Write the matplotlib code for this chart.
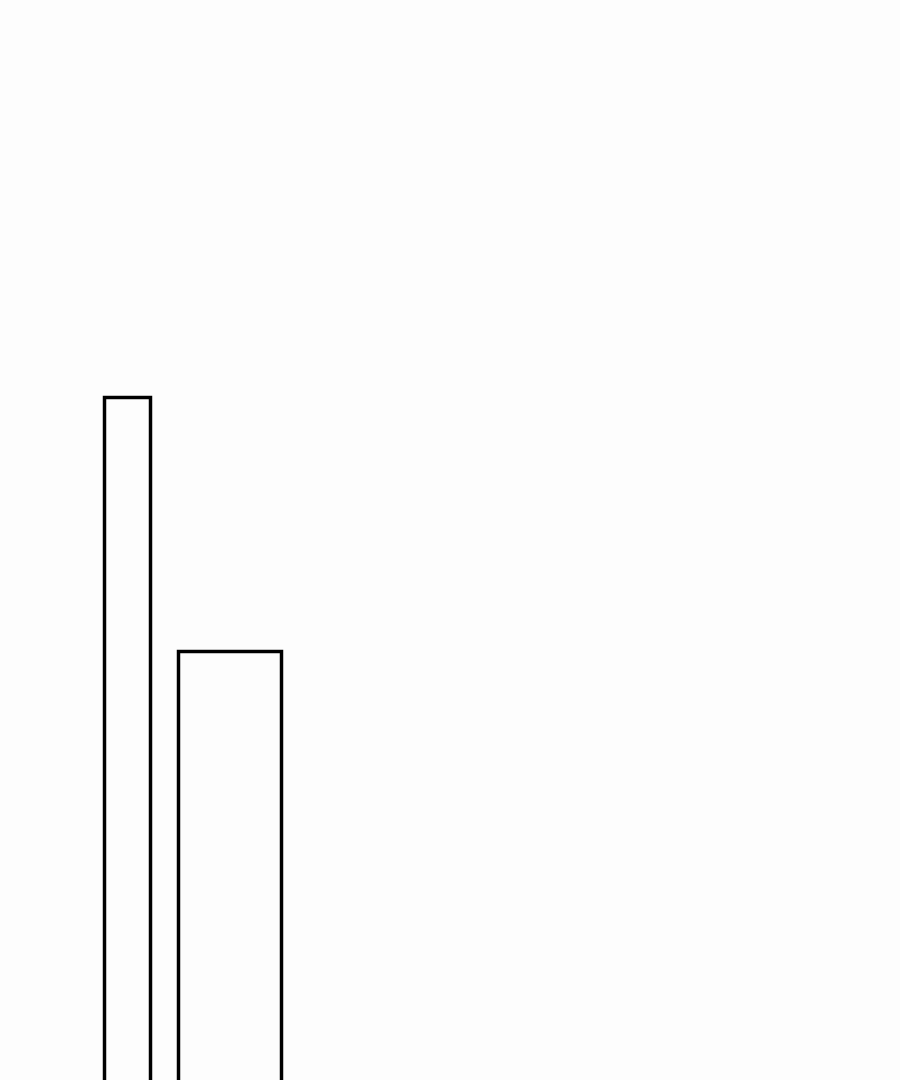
import matplotlib
matplotlib.use("Agg")
import matplotlib.pyplot as plt

# two outlined columns, both running off the bottom edge
categories = ["A", "B"]
values = [69.35, 43.95]
bar_widths = [0.44, 1.0]

fig = plt.figure(figsize=(9, 10.8), dpi=100)
fig.patch.set_facecolor("#fdfdfd")
ax = fig.add_axes([0, 0, 1, 1])
ax.set_facecolor("#fdfdfd")

x = list(range(len(categories)))
ax.bar(x, values, width=bar_widths, bottom=-1,
       facecolor="#fdfdfd", edgecolor="black", linewidth=2.5)

ax.set_xlim(-1.239, 7.541)
ax.set_ylim(0, 108)
ax.axis("off")

fig.savefig("out.png", dpi=100, facecolor=fig.get_facecolor())
